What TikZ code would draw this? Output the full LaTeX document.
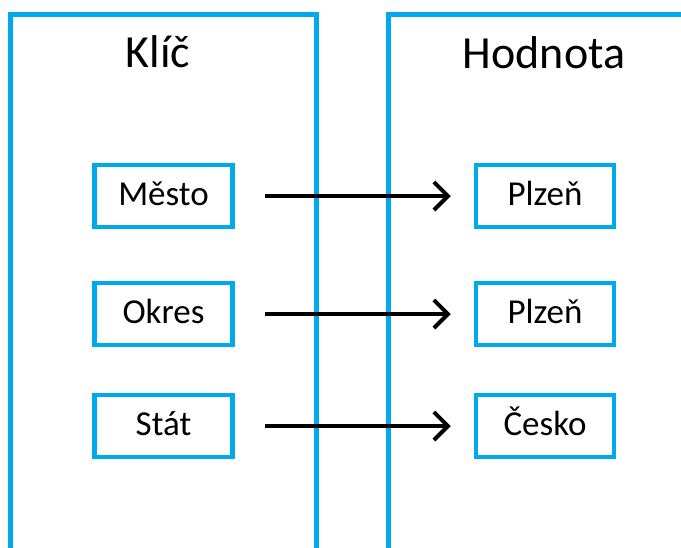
\documentclass[tikz,border=0pt]{standalone}
\usepackage{fontspec}
\setmainfont{Carlito}
\usetikzlibrary{arrows.meta}
\definecolor{kblue}{RGB}{0,168,236}
\tikzset{
  column/.style={draw=kblue, line width=5pt},
  title/.style={font=\fontsize{46}{50}\selectfont, anchor=base},
  item/.style={draw=kblue, line width=4.5pt, minimum width=138pt, minimum height=62pt,
    text height=24pt, text depth=6pt, font=\fontsize{35}{40}\selectfont},
  link/.style={line width=4pt, -{Straight Barb[length=14pt, width=28pt]},
    shorten <=30pt, shorten >=23pt}
}
\begin{document}
\begin{tikzpicture}[x=1pt, y=-1pt]
    \useasboundingbox (0,0) rectangle (681,547);
    \clip (0,0) rectangle (681,547);

    % two columns, cut off at the page border
    \draw[column] (10,14.5) rectangle (316,620);
    \draw[column] (388,14.5) rectangle (720,620);

    \node[title] (klic) at (158,67) {Klíč};
    \node[title] (hodnota) at (544,68) {Hodnota};

    \node[item] (mesto) at (163.5,196) {Město};
    \node[item] (okres) at (163.5,314) {Okres};
    \node[item] (stat)  at (163.5,426) {Stát};

    \node[item] (plzen1) at (545,196) {Plzeň};
    \node[item] (plzen2) at (545,314) {Plzeň};
    \node[item] (cesko)  at (545,426) {Česko};

    \draw[link] (mesto) -- (plzen1);
    \draw[link] (okres) -- (plzen2);
    \draw[link] (stat)  -- (cesko);
\end{tikzpicture}
\end{document}
